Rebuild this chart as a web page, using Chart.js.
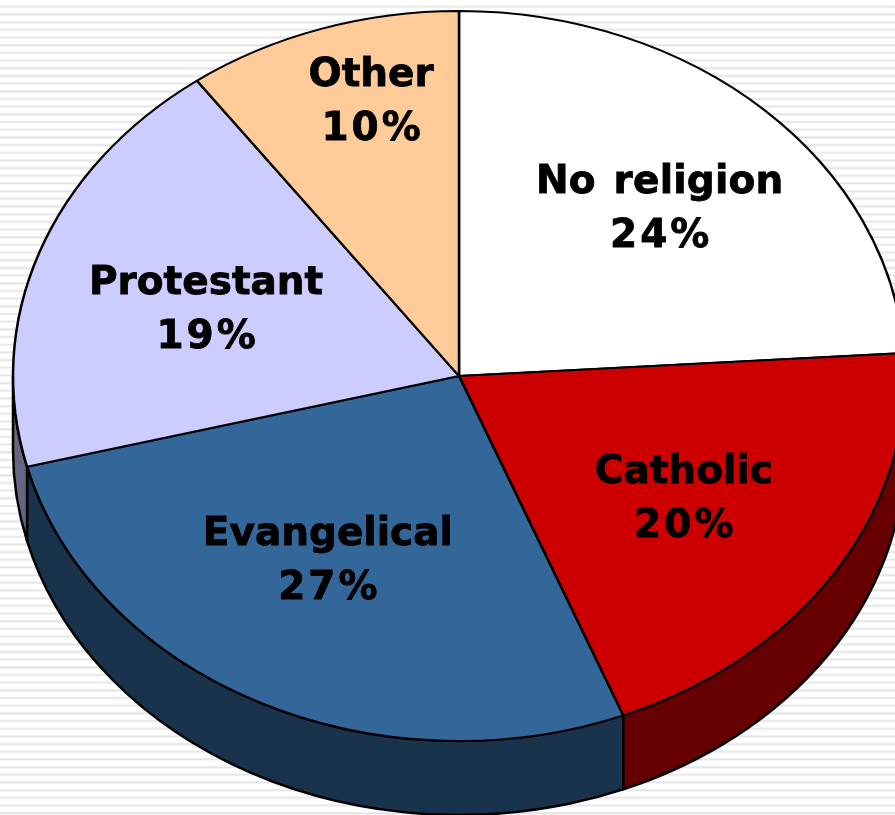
<!DOCTYPE html>
<html>
<head>
<meta charset="utf-8">
<title>Religion</title>
<script src="https://cdn.jsdelivr.net/npm/chart.js@4/dist/chart.umd.min.js"></script>
<style>
  html, body { margin: 0; padding: 0; background: #fff; overflow: hidden; }
  #wrap {
    width: 895px; height: 815px;
    background: repeating-linear-gradient(to bottom, #fff 0, #fff 5px, #e2e2e2 6px, #e2e2e2 7px, #fff 7.68px);
    background-position: 0 0.4px;
  }
  canvas { display: block; }
</style>
</head>
<body>
<div id="wrap"><canvas id="pie" width="895" height="815"></canvas></div>
<script>
// Values
const categories = ['No religion', 'Catholic', 'Evangelical', 'Protestant', 'Other'];
const shares     = [24, 20, 27, 19, 10];

// Colours
const topColors  = ['#ffffff', '#cc0000', '#336699', '#ccccff', '#ffcc99'];
const sideColors = ['#808080', '#660000', '#1a334d', '#666680', '#806650'];

// Tilted pie geometry (the chart is a circle squashed vertically)
const CX = 459, CY = 376, RX = 446, RY = 365, DEPTH = 74;
const SQUASH = RY / RX;

// Label centres, as a fraction of the radii from the pie centre
const labelSpots = [[0.45, -0.463], [0.504, 0.332], [-0.294, 0.502], [-0.567, -0.186], [-0.197, -0.756]];

const tiltPlugin = {
  id: 'tilt',
  beforeDatasetsDraw(chart) {
    const ctx = chart.ctx;
    const arcs = chart.getDatasetMeta(0).data;

    // side wall, only the part that faces the viewer
    ctx.save();
    ctx.lineWidth = 2.5;
    ctx.strokeStyle = '#000';
    ctx.lineJoin = 'round';
    arcs.forEach((arc, i) => {
      const a = Math.max(arc.startAngle, 0);
      const b = Math.min(arc.endAngle, Math.PI);
      if (a >= b) return;
      ctx.beginPath();
      ctx.ellipse(CX, CY, RX, RY, 0, a, b);
      ctx.ellipse(CX, CY + DEPTH, RX, RY, 0, b, a, true);
      ctx.closePath();
      ctx.fillStyle = sideColors[i];
      ctx.fill();
      ctx.stroke();
    });
    ctx.restore();

    // top face
    ctx.save();
    ctx.translate(CX, CY);
    ctx.scale(1, SQUASH);
    ctx.translate(-CX, -CY);
  },
  afterDatasetsDraw(chart) {
    const ctx = chart.ctx;
    ctx.restore();

    // labels: a thin stroke makes the bold heavier, like the original face
    ctx.save();
    ctx.fillStyle = '#000';
    ctx.strokeStyle = '#000';
    ctx.lineWidth = 0.8;
    ctx.font = 'bold 39px "DejaVu Sans"';
    ctx.textAlign = 'center';
    ctx.textBaseline = 'middle';
    categories.forEach((name, i) => {
      const x = CX + labelSpots[i][0] * RX;
      const y = CY + labelSpots[i][1] * RY + 3;
      ctx.wordSpacing = '4px';
      ctx.letterSpacing = i === 0 ? '0.2px' : '0px';
      ctx.fillText(name, x, y - 27);
      ctx.strokeText(name, x, y - 27);
      ctx.letterSpacing = '3px';
      ctx.fillText(shares[i] + '%', x + 1.5, y + 27);
      ctx.strokeText(shares[i] + '%', x + 1.5, y + 27);
    });
    ctx.restore();
  }
};

new Chart(document.getElementById('pie'), {
  type: 'pie',
  data: {
    labels: categories,
    datasets: [{
      data: shares,
      backgroundColor: topColors,
      borderColor: '#000',
      borderWidth: 2.5,
      clip: false
    }]
  },
  options: {
    responsive: false,
    animation: false,
    events: [],
    radius: RX,
    layout: { padding: { left: 2 * CX - 895, bottom: 815 - 2 * CY } },
    plugins: { legend: { display: false }, tooltip: { enabled: false } }
  },
  plugins: [tiltPlugin]
});
</script>
</body>
</html>
